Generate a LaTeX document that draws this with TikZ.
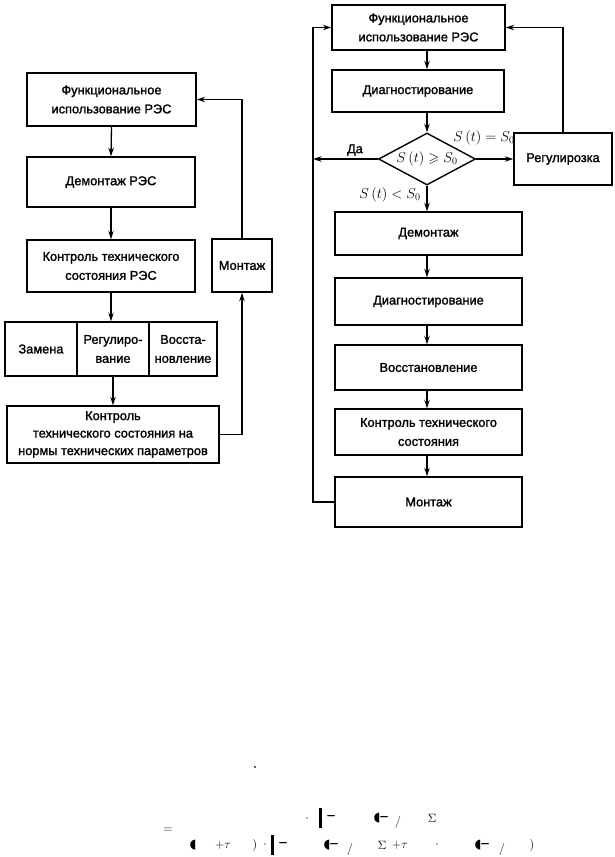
\documentclass[tikz,border=0pt]{standalone}
\usepackage{amssymb}
\usepackage{fontspec}
\setmainfont{Liberation Sans}[FakeBold=1.5]
\newfontfamily\dejavu{DejaVu Sans}
\usetikzlibrary{arrows.meta,shapes.geometric}
\tikzset{
  box/.style={draw, line width=1.4pt, align=center, inner sep=0pt, font=\fontsize{12.8}{19}\selectfont},
  arr/.style={-{Stealth[length=8.5pt,width=5.5pt]}, line width=1.3pt},
  lbl/.style={inner sep=0pt, font=\fontsize{12.8}{14}\selectfont},
  mth/.style={inner sep=0pt, font=\fontsize{14}{16}\selectfont},
  frag/.style={inner sep=0pt, font=\fontsize{13}{15}\selectfont},
  bar/.style={fill=black, minimum width=3pt, minimum height=20pt, inner sep=0pt}
}
\begin{document}
\begin{tikzpicture}[x=1pt,y=-1pt]
\useasboundingbox (0,0) rectangle (614,857);
% ---------- left diagram ----------
\node[box, minimum width=169pt, minimum height=53pt] (L1) at (111.5,99.5) {Функциональное\\использование РЭС};
\node[box, minimum width=168pt, minimum height=50pt] (L2) at (111,182) {Демонтаж РЭС};
\node[box, minimum width=168pt, minimum height=52pt] (L3) at (111,266) {Контроль технического\\состояния РЭС};
\node[box, minimum width=60pt, minimum height=53pt] (M) at (242,265.5) {Монтаж};
\node[box, minimum width=72pt, minimum height=54pt] (Za) at (41,349) {Замена};
\node[box, minimum width=72pt, minimum height=54pt] (Rg) at (113,349) {Регулиро-\\вание};
\node[box, minimum width=68pt, minimum height=54pt] (Vo) at (183,349) {Восста-\\новление};
\node[box, minimum width=212pt, minimum height=57pt, font=\fontsize{12.8}{17.5}\selectfont] (L5) at (113,434.5) {Контроль\\технического состояния на\\нормы технических параметров};
\draw[arr] (L1.south) -- (L2.north);
\draw[arr] (L2.south) -- (L3.north);
\draw[arr] (L3.south) -- (L3.south |- Rg.north);
\draw[arr] (Rg.south) -- (Rg.south |- L5.north);
\draw[arr] (L5.east) -| (M.south);
\draw[arr] (M.north) |- (L1.east);
% ---------- right diagram ----------
\node[box, minimum width=173pt, minimum height=45pt] (R1) at (418.5,27.5) {Функциональное\\использование РЭС};
\node[box, minimum width=172pt, minimum height=42pt] (R2) at (418,91) {Диагностирование};
\node[draw, line width=1.4pt, shape=diamond, minimum width=97pt, minimum height=52pt, inner sep=0pt] (D) at (427,159) {};
\node[mth] (Dt) at (D.center) {$S\,(t)\geqslant S_0$};
\node[box, minimum width=98pt, minimum height=52pt] (Reg) at (563,159) {Регулирозка};
\node[box, minimum width=187pt, minimum height=43pt] (R3) at (428.5,233.5) {Демонтаж};
\node[box, minimum width=187pt, minimum height=47pt] (R4) at (428.5,301.5) {Диагностирование};
\node[box, minimum width=187pt, minimum height=45pt] (R5) at (428.5,367.5) {Восстановление};
\node[box, minimum width=187pt, minimum height=46pt] (R6) at (428.5,432) {Контроль технического\\состояния};
\node[box, minimum width=187pt, minimum height=50pt] (R7) at (428.5,502) {Монтаж};
\coordinate (LL) at (313,0);
\draw[arr] (D.north |- R1.south) -- (D.north |- R2.north);
\draw[arr] (D.north |- R2.south) -- (D.north);
\draw[arr] (D.east) -- (Reg.west);
\draw[arr] (D.west) -- (D.west -| LL);
\draw[arr] (D.south) -- (D.south |- R3.north);
\draw[arr] (D.south |- R3.south) -- (D.south |- R4.north);
\draw[arr] (D.south |- R4.south) -- (D.south |- R5.north);
\draw[arr] (D.south |- R5.south) -- (D.south |- R6.north);
\draw[arr] (D.south |- R6.south) -- (D.south |- R7.north);
\draw[arr] (R7.west) -- (R7.west -| LL) -- (LL |- R1.west) -- (R1.west);
\draw[arr] (Reg.north) |- (R1.east);
\node[lbl] (Da) at (355,150) {Да};
\node[mth] (Seq) at (484,138) {$S\,(t)=S_0$};
\node[mth] (Slt) at (390,195) {$S\,(t)<S_0$};
% ---------- formula fragments ----------
\node[frag] (f0) at (255,767) {.};
% line 1
\node[frag] (a1) at (307,819) {$\cdot$};
\node[bar] (a2) at (320,818) {};
\node[frag] (a3) at (331,817) {--};
\node[frag] (a4) at (377,818) {\dejavu ◖};
\node[frag] (a4b) at (384,818) {--};
\node[frag] (a5) at (398,822) {$/$};
\node[frag] (a6) at (432,818) {$\Sigma$};
% line 2
\node[frag] (f2) at (168,830) {$=$};
\node[frag] (b1) at (193,845) {\dejavu ◖};
\node[frag] (b2) at (223,845) {$+\tau$};
\node[frag] (b3) at (255,845) {$)$};
\node[frag] (b4) at (265,845) {$\cdot$};
\node[bar] (b5) at (272,845) {};
\node[frag] (b6) at (283,844) {--};
\node[frag] (b7) at (327,845) {\dejavu ◖};
\node[frag] (b7b) at (334,845) {--};
\node[frag] (b8) at (350,849) {$/$};
\node[frag] (b9) at (382,845) {$\Sigma$};
\node[frag] (b10) at (400,845) {$+\tau$};
\node[frag] (b11) at (437,845) {$\cdot$};
\node[frag] (b12) at (478,845) {\dejavu ◖};
\node[frag] (b12b) at (485,845) {--};
\node[frag] (b13) at (502,849) {$/$};
\node[frag] (b14) at (532,845) {$)$};
\end{tikzpicture}
\end{document}
